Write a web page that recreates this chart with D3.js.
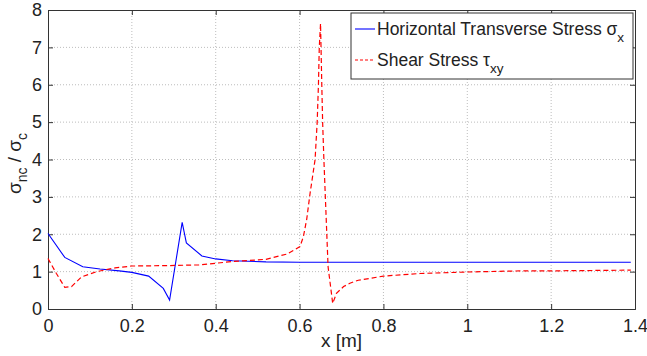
<!DOCTYPE html>
<html>
<head>
<meta charset="utf-8">
<script src="https://cdn.jsdelivr.net/npm/d3@7"></script>
<style>
  body { margin: 0; background: #fff; }
  text { font-family: "Liberation Sans", Arial, Helvetica, sans-serif; fill: #222; }
</style>
</head>
<body>
<div id="chart"></div>
<script>
// horizontal transverse stress (blue)
const sxX = [0, 0.04, 0.083, 0.124, 0.17, 0.2, 0.24, 0.275, 0.29, 0.32, 0.33, 0.367, 0.40, 0.44, 0.52, 0.6, 0.8, 1.0, 1.2, 1.39];
const sxY = [2.02, 1.38, 1.13, 1.07, 1.02, 0.98, 0.88, 0.55, 0.24, 2.32, 1.77, 1.42, 1.34, 1.29, 1.26, 1.25, 1.25, 1.25, 1.25, 1.25];

// shear stress (red dashed)
const txyX = [0, 0.02, 0.04, 0.056, 0.08, 0.116, 0.16, 0.2, 0.28, 0.36, 0.44, 0.52, 0.57, 0.601, 0.609, 0.617, 0.625, 0.637, 0.642, 0.645, 0.647, 0.650,
              0.653, 0.655, 0.658, 0.668, 0.679, 0.688, 0.705, 0.72, 0.74, 0.768, 0.8, 0.887, 1.0, 1.126, 1.2, 1.39];
const txyY = [1.35, 0.95, 0.58, 0.6, 0.86, 1.0, 1.1, 1.15, 1.16, 1.18, 1.27, 1.33, 1.47, 1.67, 1.93, 2.4, 3.09, 4.0, 5.0, 6.0, 7.0, 7.64,
              6.0, 5.0, 4.0, 1.13, 0.15, 0.42, 0.6, 0.69, 0.77, 0.82, 0.88, 0.95, 0.99, 1.02, 1.02, 1.04];

const xTicks = [0, 0.2, 0.4, 0.6, 0.8, 1, 1.2, 1.4];
const yTicks = [0, 1, 2, 3, 4, 5, 6, 7, 8];

const W = 647, H = 356;
const margin = {top: 10, right: 12, bottom: 47, left: 48};
const width = W - margin.left - margin.right;
const height = H - margin.top - margin.bottom;

const svg = d3.select("#chart").append("svg")
    .attr("width", W)
    .attr("height", H);

const g = svg.append("g").attr("transform", `translate(${margin.left},${margin.top})`);

const x = d3.scaleLinear().domain([0, 1.4]).range([0, width]);
const y = d3.scaleLinear().domain([0, 8]).range([height, 0]);

//grid
g.append("g").selectAll("line").data(xTicks.slice(1, -1)).enter().append("line")
    .attr("x1", d => x(d)).attr("x2", d => x(d))
    .attr("y1", 0).attr("y2", height)
    .attr("stroke", "#bdbdbd").attr("stroke-dasharray", "1,2");
g.append("g").selectAll("line").data(yTicks.slice(1, -1)).enter().append("line")
    .attr("y1", d => y(d)).attr("y2", d => y(d))
    .attr("x1", 0).attr("x2", width)
    .attr("stroke", "#bdbdbd").attr("stroke-dasharray", "1,2");

// axes, ticks pointing inward on all sides
const fmt = d => d3.format("")(d);
g.append("g").attr("transform", `translate(0,${height})`)
    .call(d3.axisBottom(x).tickValues(xTicks).tickSize(-5).tickPadding(10).tickFormat(fmt));
g.append("g")
    .call(d3.axisLeft(y).tickValues(yTicks).tickSize(-5).tickPadding(6).tickFormat(fmt));
g.append("g")
    .call(d3.axisTop(x).tickValues(xTicks).tickSize(-5).tickFormat(""));
g.append("g").attr("transform", `translate(${width},0)`)
    .call(d3.axisRight(y).tickValues(yTicks).tickSize(-5).tickFormat(""));

g.selectAll(".domain, .tick line").attr("stroke", "#333");
g.selectAll(".tick text").style("font-size", "18px").style("fill", "#222");

// lines
const line = d3.line().x(d => x(d[0])).y(d => y(d[1]));

g.append("path")
    .datum(sxX.map((v, i) => [v, sxY[i]]))
    .attr("d", line)
    .attr("fill", "none")
    .attr("stroke", "#0000ff")
    .attr("stroke-width", 1.1);

g.append("path")
    .datum(txyX.map((v, i) => [v, txyY[i]]))
    .attr("d", line)
    .attr("fill", "none")
    .attr("stroke", "#ff0000")
    .attr("stroke-width", 1.2)
    .attr("stroke-dasharray", "5,3");

// legend
const lg = svg.append("g");
lg.append("rect")
    .attr("x", 351).attr("y", 13).attr("width", 282).attr("height", 66)
    .attr("fill", "#fff").attr("stroke", "#333").attr("stroke-width", 1);

lg.append("line").attr("x1", 355).attr("x2", 375).attr("y1", 29).attr("y2", 29)
    .attr("stroke", "#0000ff").attr("stroke-width", 1.1);
lg.append("line").attr("x1", 355).attr("x2", 375).attr("y1", 60).attr("y2", 60)
    .attr("stroke", "#ff0000").attr("stroke-width", 1.2).attr("stroke-dasharray", "3,2");

const t1 = lg.append("text").attr("x", 377).attr("y", 35).style("font-size", "17.5px");
t1.append("tspan").text("Horizontal Transverse Stress σ");
t1.append("tspan").attr("dy", 7).style("font-size", "13.5px").text("x");

const t2 = lg.append("text").attr("x", 377).attr("y", 66).style("font-size", "17.5px");
t2.append("tspan").text("Shear Stress τ");
t2.append("tspan").attr("dy", 7).style("font-size", "13.5px").text("xy");

// axis labels
svg.append("text")
    .attr("x", margin.left + width / 2).attr("y", 347)
    .attr("text-anchor", "middle")
    .style("font-size", "19px")
    .text("x [m]");

const yl = svg.append("text")
    .attr("transform", `translate(21,${margin.top + height / 2 + 4}) rotate(-90)`)
    .attr("text-anchor", "middle")
    .style("font-size", "19px");
yl.append("tspan").text("σ");
yl.append("tspan").attr("dy", 6).style("font-size", "14px").text("nc");
yl.append("tspan").attr("dy", -6).text(" / σ");
yl.append("tspan").attr("dy", 6).style("font-size", "14px").text("c");
</script>
</body>
</html>
